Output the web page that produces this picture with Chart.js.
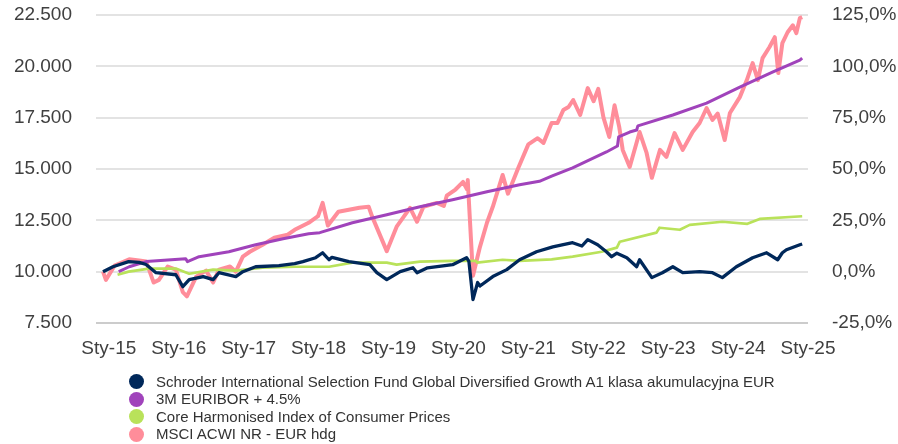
<!DOCTYPE html>
<html>
<head>
<meta charset="utf-8">
<script src="https://cdn.jsdelivr.net/npm/chart.js@4"></script>
<style>
  html, body { margin: 0; padding: 0; background: #ffffff; }
  #wrap { position: relative; width: 898px; height: 444px; overflow: hidden; }
  canvas { position: absolute; left: 0; top: 0; }
  .lg-row { position: absolute; left: 0; height: 18px; font-family: 'Liberation Sans', Arial, sans-serif; font-size: 15px; color: #333333; white-space: nowrap; }
  .lg-dot { position: absolute; width: 15px; height: 15px; border-radius: 50%; left: 128.5px; top: 1.5px; }
  .lg-txt { position: absolute; left: 156px; top: 0; line-height: 18px; }
</style>
</head>
<body>
<div id="wrap">
  <canvas id="c" width="898" height="444"></canvas>
  <div id="legend"></div>
</div>
<script>
// ---- Data (month offset from end of Dec 2014, value rebased to 10 000) ----
const xTickLabels = ['Sty-15','Sty-16','Sty-17','Sty-18','Sty-19','Sty-20','Sty-21','Sty-22','Sty-23','Sty-24','Sty-25'];

const fundMonths = [0,1.7,4.4,6.2,7.4,9.1,12.5,13.7,14.8,17.2,18.9,19.9,22.8,24,26.2,30.2,32.9,34.3,36.5,37.7,38.8,39.3,42.2,45.8,47,48.7,51,53.2,53.9,55.7,60,62.4,62.8,63.5,64.3,64.7,66.9,69.3,71.5,74.4,77.2,80.6,82.2,83.2,84.9,86.4,87.3,88.2,89.9,91.6,92.1,94.2,96,97.8,99.5,102.4,104.6,106.3,108.7,111.5,113.9,115.8,116.6,117.3,119.6,120];
const fundValues = [10000,10240,10490,10450,10350,9950,9850,9270,9610,9760,9610,9950,9760,10000,10240,10290,10390,10490,10680,10920,10580,10700,10490,10340,9950,9610,10000,10190,9950,10190,10340,10680,10500,8640,9470,9300,9760,10100,10580,10970,11210,11410,11250,11560,11310,10970,10730,10900,10680,10240,10580,9710,9950,10240,9950,10000,9950,9710,10240,10680,10920,10580,10920,11070,11310,11350];

const euriborMonths = [2.7,4.5,7.4,14.2,14.5,16.5,21.6,26.2,30.9,35.3,37.2,42.8,48.7,54.4,60,65.9,71.5,74.9,77,80.6,86.4,88.3,88.5,90.4,91.6,91.8,97.8,103.6,109.3,114.9,119.6,120];
const euriborValues = [10000,10240,10490,10630,10490,10730,10970,11310,11600,11850,11900,12380,12770,13160,13500,13890,14230,14400,14650,15060,15830,16120,16560,16800,16900,17100,17630,18210,18990,19720,20300,20400];

const cpiMonths = [2.5,4.4,7.9,12.5,14.8,18.9,22.8,27.4,33.1,38.8,42.8,48.7,50.4,54.4,60,64,64.2,68.6,71.5,77,80.6,85.6,88.2,88.7,95,95.5,99,100.7,106.3,110.6,112.7,120];
const cpiValues = [9850,10000,10150,10150,9900,10100,10050,10200,10240,10240,10440,10440,10340,10490,10530,10530,10440,10580,10530,10600,10730,10970,11170,11460,11900,12140,12040,12280,12430,12330,12570,12700];

const msciMonths = [0,0.5,2,4.5,6.2,7.4,8.7,9.6,11.1,12.5,13.7,14.4,16,17.7,18.9,19.9,21.8,22.8,24,25.2,27.4,29.4,31.7,32.9,35.3,36.9,37.7,38.6,40.4,44,45.6,46.2,48.7,50.4,52.7,53.9,55,57.3,58.5,59,60.5,61.8,62.5,62.6,63.5,64.7,65.9,66.9,68.6,69.5,71.2,73,74.6,75.6,77,78,79,79.9,80.7,81.9,83.2,84.2,85,85.9,86.9,87.8,88.6,89.2,90.4,92.1,93.3,94.2,95.6,96.7,98.1,99.5,101.2,102.4,103.6,104.6,105.5,106.7,107.6,109.3,110.5,111.5,112.4,113.2,114.4,115.3,115.9,116.6,117.5,118.4,119,119.6,120];
const msciValues = [10000,9600,10300,10600,10550,10500,9470,9600,10250,10100,9000,8800,9760,10050,9470,10100,10250,10000,10730,10970,11310,11650,11800,12040,12380,12700,13350,12250,12920,13110,13160,12680,11000,12190,13110,12430,13160,13350,13200,13700,14000,14370,14000,14470,9800,11210,12380,13160,14710,13800,15000,16200,16500,16270,17240,17240,17870,18020,18360,17630,18940,18300,18900,17500,16560,18100,17050,15930,15100,16800,15780,14570,15930,15590,16750,15930,16800,17240,17970,17390,17700,16410,17730,18500,19330,20160,19330,20400,20940,21420,19670,21130,21660,22000,21620,22350,22400];

const seriesNames = [
  'Schroder International Selection Fund Global Diversified Growth A1 klasa akumulacyjna EUR',
  '3M EURIBOR + 4.5%',
  'Core Harmonised Index of Consumer Prices',
  'MSCI ACWI NR - EUR hdg'
];
const seriesColors = ['#00285a', '#a043bb', '#b9e25a', '#ff8d9a'];

// ---- build ----
function pts(xs, ys) { return xs.map((x, i) => ({ x: x, y: ys[i] })); }
const FONT = "'Liberation Sans', Arial, sans-serif";
const TXT = '#404040';

const datasets = [
  { label: seriesNames[0], data: pts(fundMonths, fundValues), borderColor: seriesColors[0], borderWidth: 3.3 },
  { label: seriesNames[1], data: pts(euriborMonths, euriborValues), borderColor: seriesColors[1], borderWidth: 3 },
  { label: seriesNames[2], data: pts(cpiMonths, cpiValues), borderColor: seriesColors[2], borderWidth: 2.7 },
  { label: seriesNames[3], data: pts(msciMonths, msciValues), borderColor: seriesColors[3], borderWidth: 4 }
].map(d => Object.assign(d, { pointRadius: 0, tension: 0, fill: false, borderJoinStyle: 'round', yAxisID: 'y' }));

const bgPlugin = {
  id: 'bg',
  beforeDraw(chart) {
    const ctx = chart.ctx;
    ctx.save(); ctx.fillStyle = '#ffffff'; ctx.fillRect(0, 0, chart.width, chart.height); ctx.restore();
  }
};

new Chart(document.getElementById('c'), {
  type: 'line',
  data: { datasets },
  plugins: [bgPlugin],
  options: {
    responsive: false,
    animation: false,
    layout: { padding: { top: 15, left: 0, right: 0, bottom: 0 } },
    plugins: { legend: { display: false }, tooltip: { enabled: false } },
    scales: {
      x: {
        type: 'linear',
        min: -1.2, max: 121,
        afterFit(s) { s.height = 121; },
        afterBuildTicks(s) { s.ticks = xTickLabels.map((_, i) => ({ value: 1 + 12 * i })); },
        ticks: {
          autoSkip: false, maxRotation: 0, padding: 0,
          color: TXT, font: { family: FONT, size: 19 },
          callback(v) { const i = Math.round((v - 1) / 12); return xTickLabels[i]; }
        },
        grid: { display: true, drawOnChartArea: false, drawTicks: true, tickLength: 14, tickColor: 'rgba(0,0,0,0)', color: 'rgba(0,0,0,0)' },
        border: { display: false }
      },
      y: {
        position: 'left',
        min: 7500, max: 22500,
        afterFit(s) { s.width = 96; },
        ticks: {
          stepSize: 2500, padding: 0, color: TXT, font: { family: FONT, size: 19 },
          callback(v) { return v.toLocaleString('de-DE'); }
        },
        grid: {
          drawTicks: true, tickLength: 24, tickColor: 'rgba(0,0,0,0)',
          color(c) { return c.tick && c.tick.value === 7500 ? '#cccccc' : '#e3e3e3'; },
          lineWidth: 2
        },
        border: { display: false }
      },
      y1: {
        position: 'right',
        min: -0.25, max: 1.25,
        afterFit(s) { s.width = 90; },
        ticks: {
          stepSize: 0.25, padding: 0, color: TXT, font: { family: FONT, size: 19 },
          callback(v) { return (v * 100).toFixed(1).replace('.', ',') + '%'; }
        },
        grid: { display: true, drawOnChartArea: false, drawTicks: true, tickLength: 24, tickColor: 'rgba(0,0,0,0)', color: 'rgba(0,0,0,0)' },
        border: { display: false }
      }
    }
  }
});

// ---- legend (HTML text) ----
const lg = document.getElementById('legend');
const rowCenters = [381.5, 399, 416.5, 434];
seriesNames.forEach((name, i) => {
  const row = document.createElement('div');
  row.className = 'lg-row';
  row.style.top = (rowCenters[i] - 9) + 'px';
  const dot = document.createElement('div');
  dot.className = 'lg-dot';
  dot.style.background = seriesColors[i];
  const t = document.createElement('div');
  t.className = 'lg-txt';
  t.textContent = name;
  row.appendChild(dot); row.appendChild(t);
  lg.appendChild(row);
});
</script>
</body>
</html>
